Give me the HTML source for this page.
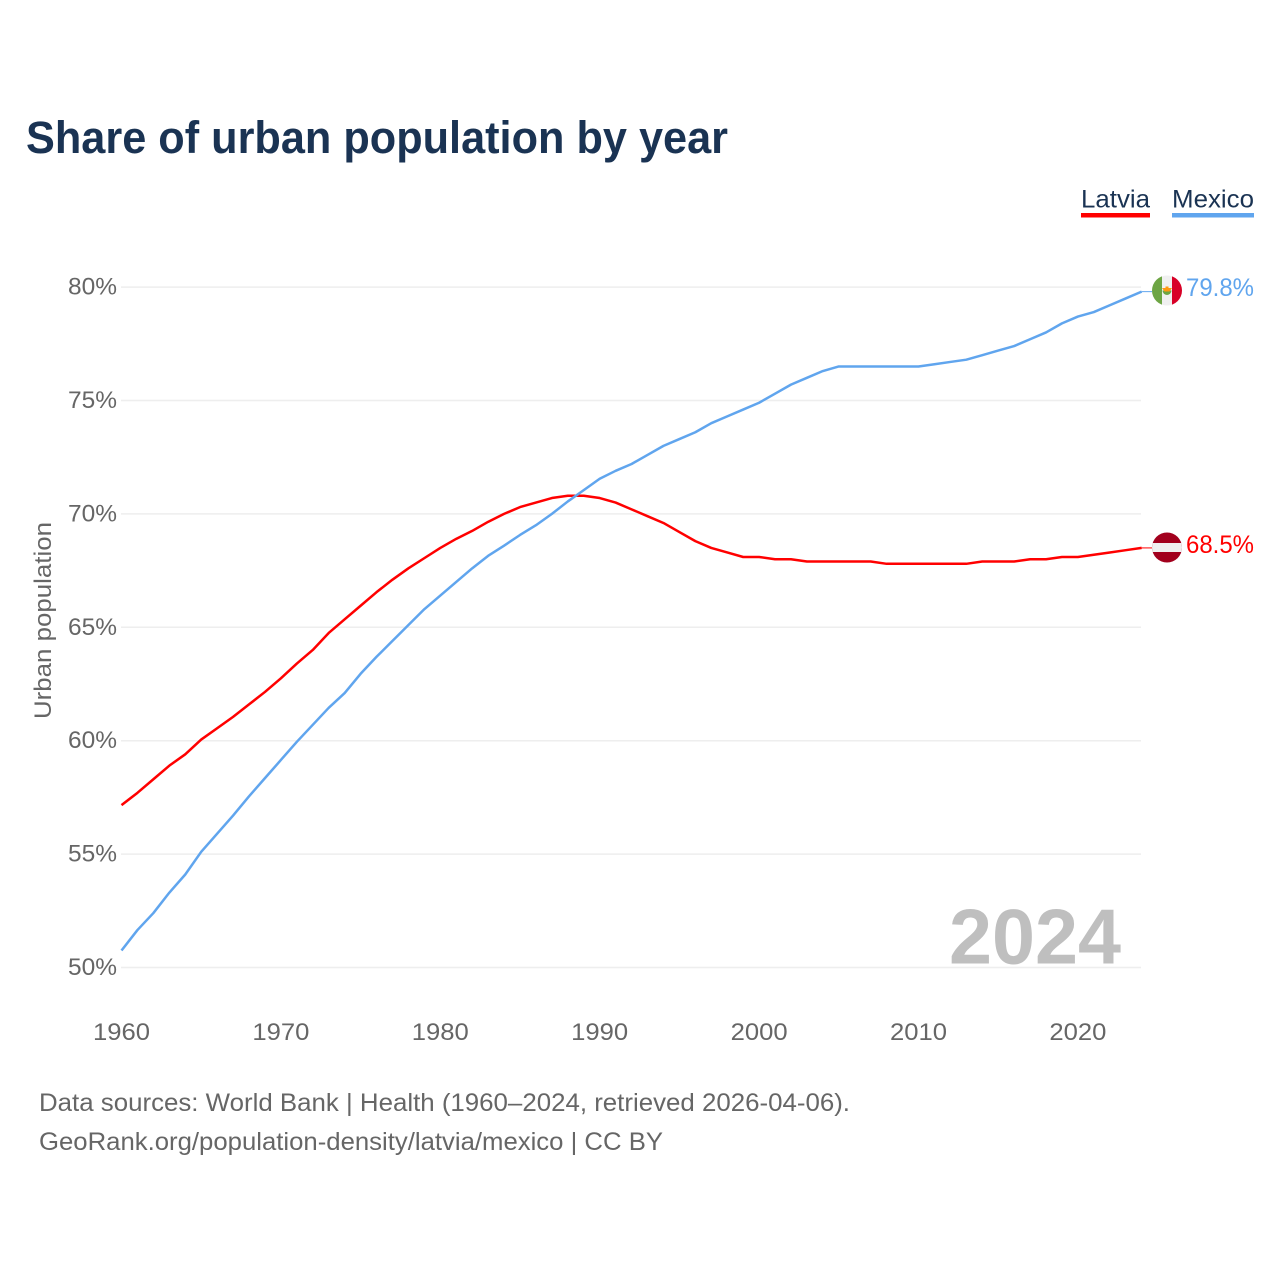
<!DOCTYPE html>
<html lang="en">
<head>
<meta charset="utf-8">
<title>Share of urban population by year</title>
<style>
html,body{margin:0;padding:0;background:#fff;width:1280px;height:1280px;overflow:hidden}
svg{display:block;font-family:"Liberation Sans",sans-serif}
</style>
</head>
<body>
<svg id="chart" xmlns="http://www.w3.org/2000/svg" width="1280" height="1280" viewBox="0 0 1280 1280">
  <defs>
    <clipPath id="flag-clip"><circle cx="0" cy="0" r="15"/></clipPath>
  </defs>
  <rect width="1280" height="1280" fill="#fff"/>
  <text x="26" y="153" font-size="45" font-weight="700" fill="#1a3353" textLength="702" lengthAdjust="spacingAndGlyphs">Share of urban population by year</text>

  <text x="1081" y="207.5" font-size="25" fill="#1a3353" textLength="69" lengthAdjust="spacingAndGlyphs">Latvia</text>
  <rect x="1081" y="213" width="69" height="4.5" fill="#ff0000"/>
  <text x="1172" y="207.5" font-size="25" fill="#1a3353" textLength="82" lengthAdjust="spacingAndGlyphs">Mexico</text>
  <rect x="1172" y="213" width="82" height="4.5" fill="#60a5ee"/>

  <g id="grid"></g>
  <g id="y-ticks"></g>
  <g id="x-ticks"></g>

  <text transform="translate(51,620.5) rotate(-90)" text-anchor="middle" font-size="24" fill="#666666" textLength="197" lengthAdjust="spacingAndGlyphs">Urban population</text>

  <text x="1121" y="963.5" text-anchor="end" font-size="78" font-weight="700" fill="#bfbfbf" textLength="172" lengthAdjust="spacingAndGlyphs">2024</text>

  <g id="series"></g>

  <g transform="translate(1167,290.5)">
    <g clip-path="url(#flag-clip)">
      <rect x="-15" y="-15" width="30" height="30" fill="#f0f0f0"/>
      <rect x="-15" y="-15" width="10" height="30" fill="#6da544"/>
      <rect x="5" y="-15" width="10" height="30" fill="#d80027"/>
      <path d="M-4.5 0 A4.5 4.5 0 0 0 4.5 0 Z" fill="#6da544"/>
      <path d="M-5 -2.5 L5 -2.5 L2.5 1 L-2.5 1 Z" fill="#ff9811"/>
      <rect x="-1.5" y="-4" width="3" height="2" fill="#ff9811"/>
    </g>
  </g>
  <g transform="translate(1167,547.5)">
    <g clip-path="url(#flag-clip)">
      <rect x="-15" y="-15" width="30" height="30" fill="#a2001d"/>
      <rect x="-15" y="-4.5" width="30" height="9" fill="#f0f0f0"/>
    </g>
  </g>

  <g id="end-labels"></g>

  <text x="39" y="1111" font-size="25" fill="#666666" textLength="811" lengthAdjust="spacingAndGlyphs">Data sources: World Bank | Health (1960–2024, retrieved 2026-04-06).</text>
  <text x="39" y="1150" font-size="25" fill="#666666" textLength="624" lengthAdjust="spacingAndGlyphs">GeoRank.org/population-density/latvia/mexico | CC BY</text>
</svg>
<script>
const years = [];
for (let year = 1960; year <= 2024; year++) years.push(year);
const yTickValues = [50, 55, 60, 65, 70, 75, 80];
const xTickValues = [1960, 1970, 1980, 1990, 2000, 2010, 2020];
const latviaValues = [
  57.16, 57.7, 58.3, 58.9, 59.4, 60.05, 60.55, 61.05, 61.6, 62.15,
  62.75, 63.4, 64.0, 64.75, 65.35, 65.95, 66.55, 67.1, 67.6, 68.05,
  68.5, 68.9, 69.25, 69.65, 70.0, 70.3, 70.5, 70.7, 70.8, 70.8,
  70.7, 70.5, 70.2, 69.9, 69.6, 69.2, 68.8, 68.5, 68.3, 68.1,
  68.1, 68.0, 68.0, 67.9, 67.9, 67.9, 67.9, 67.9, 67.8, 67.8,
  67.8, 67.8, 67.8, 67.8, 67.9, 67.9, 67.9, 68.0, 68.0, 68.1,
  68.1, 68.2, 68.3, 68.4, 68.5
];
const mexicoValues = [
  50.75, 51.65, 52.4, 53.3, 54.1, 55.1, 55.9, 56.7, 57.55, 58.35,
  59.15, 59.95, 60.7, 61.45, 62.1, 62.95, 63.7, 64.4, 65.1, 65.8,
  66.4, 67.0, 67.6, 68.15, 68.6, 69.07, 69.5, 70.0, 70.55, 71.05,
  71.55, 71.9, 72.2, 72.6, 73.0, 73.3, 73.6, 74.0, 74.3, 74.6,
  74.9, 75.3, 75.7, 76.0, 76.3, 76.5, 76.5, 76.5, 76.5, 76.5,
  76.5, 76.6, 76.7, 76.8, 77.0, 77.2, 77.4, 77.7, 78.0, 78.4,
  78.7, 78.9, 79.2, 79.5, 79.8
];

const svgNS = 'http://www.w3.org/2000/svg';
const xScale = v => 121.5 + (v - 1960) * 15.94;
const yScale = v => 967.5 - (v - 50) * 22.68;

function make(tag, attrs, parent, text) {
  const el = document.createElementNS(svgNS, tag);
  for (const key in attrs) el.setAttribute(key, attrs[key]);
  if (text !== undefined) el.textContent = text;
  parent.appendChild(el);
  return el;
}

const gridGroup = document.getElementById('grid');
const yTickGroup = document.getElementById('y-ticks');
const xTickGroup = document.getElementById('x-ticks');
const seriesGroup = document.getElementById('series');
const endGroup = document.getElementById('end-labels');

yTickValues.forEach(v => {
  const line = make('line', {x1: 121, x2: 1141, y1: yScale(v), y2: yScale(v), stroke: '#eeeeee', 'stroke-width': 1.5}, gridGroup);
  
  
  const label = make('text', {x: 117, y: yScale(v) + 7.5, 'text-anchor': 'end', 'font-size': 24, fill: '#666666', textLength: 49, lengthAdjust: 'spacingAndGlyphs'}, yTickGroup, v + '%');
  
  
});

xTickValues.forEach(v => {
  const label = make('text', {x: xScale(v), y: 1040, 'text-anchor': 'middle', 'font-size': 24, fill: '#666666', textLength: 57, lengthAdjust: 'spacingAndGlyphs'}, xTickGroup, String(v));
  
  
});

function linePath(values) {
  return values.map((v, i) => (i ? 'L' : 'M') + xScale(years[i]).toFixed(2) + ' ' + yScale(v).toFixed(2)).join(' ');
}

const latviaLine = make('path', {d: linePath(latviaValues), fill: 'none', stroke: '#ff0000', 'stroke-width': 2.5, 'stroke-linejoin': 'round'}, seriesGroup);



const mexicoLine = make('path', {d: linePath(mexicoValues), fill: 'none', stroke: '#60a5ee', 'stroke-width': 2.5, 'stroke-linejoin': 'round'}, seriesGroup);



const lastIndex = years.length - 1;
const latviaLast = latviaValues[lastIndex];
const mexicoLast = mexicoValues[lastIndex];

const latviaLead = make('line', {x1: xScale(years[lastIndex]), x2: 1153, y1: yScale(latviaLast), y2: yScale(latviaLast), stroke: '#ff0000', 'stroke-width': 1}, seriesGroup);



const mexicoLead = make('line', {x1: xScale(years[lastIndex]), x2: 1153, y1: yScale(mexicoLast), y2: yScale(mexicoLast), stroke: '#60a5ee', 'stroke-width': 1}, seriesGroup);



const latviaEnd = make('text', {x: 1254, y: 553, 'text-anchor': 'end', 'font-size': 25, fill: '#ff0000', textLength: 68, lengthAdjust: 'spacingAndGlyphs'}, endGroup, latviaLast.toFixed(1) + '%');



const mexicoEnd = make('text', {x: 1254, y: 296, 'text-anchor': 'end', 'font-size': 25, fill: '#60a5ee', textLength: 68, lengthAdjust: 'spacingAndGlyphs'}, endGroup, mexicoLast.toFixed(1) + '%');


</script>
</body>
</html>
